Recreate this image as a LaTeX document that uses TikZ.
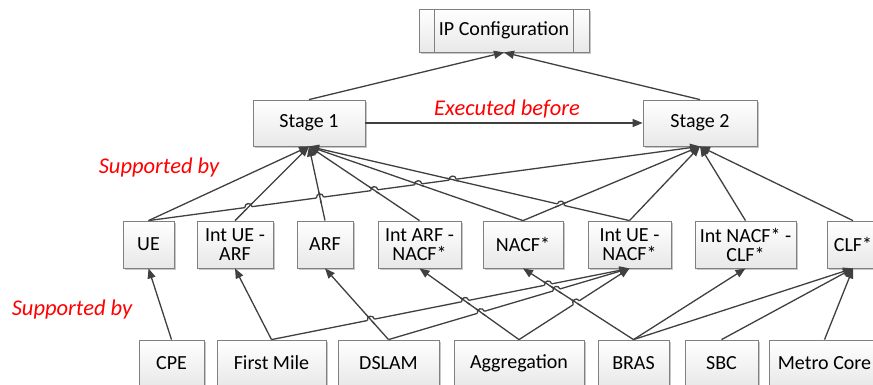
\documentclass[tikz,border=0pt]{standalone}
\usepackage{fontspec}
\setmainfont{Carlito}
\usetikzlibrary{arrows.meta,calc,intersections,shadows}
\newcommand\hopover[5]{%
  \draw[white, line width=3.4pt] ($(#1)!3.6pt!(#2)$) -- ($(#1)!3.6pt!(#3)$);
  \draw[plain] ($(#1)!6pt!(#4)$) -- ($(#1)!6pt!(#5)$);
  \coordinate (h1) at ($(#1)!3.6pt!(#2)$);
  \coordinate (h2) at ($(#1)!3.6pt!(#3)$);
  \draw[plain] (h1) .. controls ($(h1)!4.8pt!90:(#1)$) and ($(h2)!4.8pt!-90:(#1)$) .. (h2);
}
\begin{document}
\begin{tikzpicture}[x=1pt,y=-1pt,
  box/.style={draw=black!50, line width=0.8pt, top color=white, bottom color=black!9,
    drop shadow={shadow xshift=1.6pt,shadow yshift=-1.6pt,opacity=0.4,fill=black!55},
    font=\fontsize{20}{20}\selectfont, align=center, inner sep=0pt},
  conn/.style={draw=black!75, line width=1.3pt, -{Triangle[length=10pt,width=8pt]}},
  plain/.style={draw=black!75, line width=1.3pt},
  lbl/.style={text=red, font=\fontsize{22.5}{24}\selectfont\itshape, inner sep=0pt, anchor=base}]
\useasboundingbox (0,0) rectangle (873,385);
\fill[white] (0,0) rectangle (873,385);

% top
\node[box, minimum width=170pt, minimum height=43pt] (IP) at (504,30.5) {IP Configuration};
\draw[black!50, line width=0.8pt] ($(IP.north west)+(16,0)$) -- ($(IP.south west)+(16,0)$);
\draw[black!50, line width=0.8pt] ($(IP.north east)+(-16,0)$) -- ($(IP.south east)+(-16,0)$);

\node[box, minimum width=112pt, minimum height=46pt] (S1) at (309,123) {Stage 1};
\node[box, minimum width=114pt, minimum height=46pt] (S2) at (700,123) {Stage 2};

% middle row
\tikzset{mid/.style={box, minimum height=47pt}}
\node[mid, minimum width=51pt] (UE) at (148.5,244.5) {UE};
\node[mid, minimum width=76pt] (IUA) at (235,244.5) {Int UE -\\[-1pt]ARF};
\node[mid, minimum width=56pt] (ARF) at (325,244.5) {ARF};
\node[mid, minimum width=83pt] (IAN) at (419.5,244.5) {Int ARF -\\[-1pt]NACF*};
\node[mid, minimum width=80pt] (NACF) at (523,244.5) {NACF*};
\node[mid, minimum width=83pt] (IUN) at (629.5,244.5) {Int UE -\\[-1pt]NACF*};
\node[mid, minimum width=101pt] (INC) at (745.5,244.5) {Int NACF* -\\[-1pt]CLF*};
\node[mid, minimum width=52pt] (CLF) at (853,244.5) {CLF*};

% bottom row
\tikzset{bot/.style={box, minimum height=46pt}}
\node[bot, minimum width=65pt] (CPE) at (171.5,363) {CPE};
\node[bot, minimum width=109pt] (FM) at (271.5,363) {First Mile};
\node[bot, minimum width=101pt] (DSL) at (388.5,363) {DSLAM};
\node[bot, minimum width=130pt] (AGG) at (519,363) {Aggregation};
\node[bot, minimum width=71pt] (BRAS) at (633.5,363) {BRAS};
\node[bot, minimum width=73pt] (SBC) at (721.5,363) {SBC};
\node[bot, minimum width=111pt] (MC) at (824.5,363) {Metro Core};

% labels
\node[lbl] (L1) at (507,116) {Executed before};
\node[lbl] (L2) at (159,173) {Supported by};
\node[lbl] (L3) at (72,315) {Supported by};

% upper connectors
\draw[conn] (S1.north) -- (IP.south);
\draw[conn] (S2.north) -- (IP.south);
\draw[conn] (S1.east) -- (S2.west);

\draw[conn] (UE.north) -- (S1.south);
\draw[conn, name path=iua1] (IUA.north) -- (S1.south);
\draw[conn, name path=arf1] (ARF.north) -- (S1.south);
\draw[conn, name path=ian1] (IAN.north) -- (S1.south);
\draw[conn, name path=nacf1] (NACF.north) -- (S1.south);
\draw[conn, name path=iun1] (IUN.north) -- (S1.south);
\draw[conn, name path=ue2] (UE.north) -- (S2.south);
\draw[conn, name path=nacf2] (NACF.north) -- (S2.south);
\draw[conn] (IUN.north) -- (S2.south);
\draw[conn] (INC.north) -- (S2.south);
\draw[conn] (CLF.north) -- (S2.south);

% lower connectors
\draw[conn] (CPE.north) -- (UE.south);
\draw[conn] (FM.north) -- (IUA.south);
\draw[conn, name path=fmiun] (FM.north) -- (IUN.south);
\draw[conn, name path=dsarf] (DSL.north) -- (ARF.south);
\draw[conn, name path=dsiun] (DSL.north) -- (IUN.south);
\draw[conn, name path=agian] (AGG.north) -- (IAN.south);
\draw[conn, name path=agiun] (AGG.north) -- (IUN.south);
\draw[conn, name path=brnacf] (BRAS.north) -- (NACF.south);
\draw[conn] (BRAS.north) -- (INC.south);
\draw[conn] (BRAS.north) -- (CLF.south);
\draw[conn] (SBC.north) -- (CLF.south);
\draw[conn] (MC.north) -- (CLF.south);

% intersections
\path[name intersections={of=ue2 and iua1, by=t1}];
\path[name intersections={of=ue2 and arf1, by=t2}];
\path[name intersections={of=ue2 and ian1, by=t3}];
\path[name intersections={of=ue2 and nacf1, by=t4}];
\path[name intersections={of=ue2 and iun1, by=t5}];
\path[name intersections={of=iun1 and nacf2, by=t6}];
\path[name intersections={of=fmiun and dsarf, by=b1}];
\path[name intersections={of=fmiun and agian, by=b2}];
\path[name intersections={of=dsiun and agian, by=b3}];
\path[name intersections={of=fmiun and brnacf, by=b4}];
\path[name intersections={of=dsiun and brnacf, by=b5}];
\path[name intersections={of=agiun and brnacf, by=b6}];

% hops
\hopover{t1}{UE.north}{S2.south}{IUA.north}{S1.south}
\hopover{t2}{UE.north}{S2.south}{ARF.north}{S1.south}
\hopover{t3}{UE.north}{S2.south}{IAN.north}{S1.south}
\hopover{t4}{UE.north}{S2.south}{NACF.north}{S1.south}
\hopover{t5}{UE.north}{S2.south}{IUN.north}{S1.south}
\hopover{t6}{S1.south}{IUN.north}{NACF.north}{S2.south}
\hopover{b1}{FM.north}{IUN.south}{DSL.north}{ARF.south}
\hopover{b2}{FM.north}{IUN.south}{AGG.north}{IAN.south}
\hopover{b3}{DSL.north}{IUN.south}{AGG.north}{IAN.south}
\hopover{b4}{FM.north}{IUN.south}{BRAS.north}{NACF.south}
\hopover{b5}{DSL.north}{IUN.south}{BRAS.north}{NACF.south}
\hopover{b6}{AGG.north}{IUN.south}{BRAS.north}{NACF.south}
\end{tikzpicture}
\end{document}
